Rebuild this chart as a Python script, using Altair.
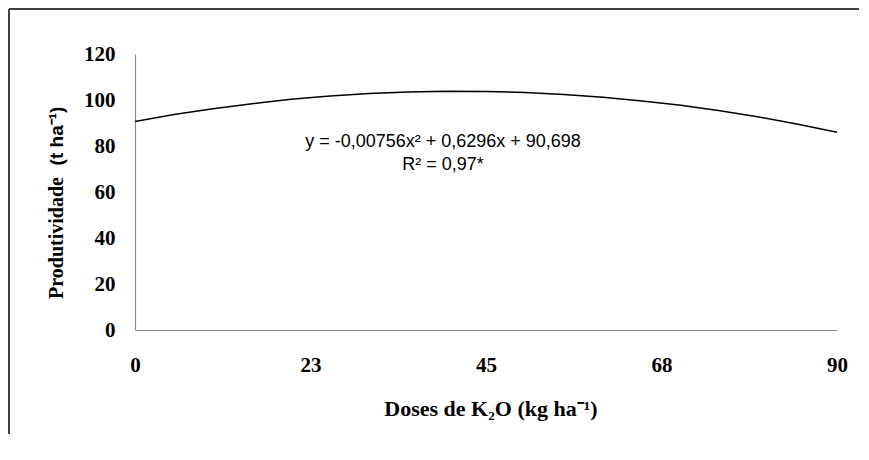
import altair as alt
import pandas as pd

# Curve values (Produtividade vs dose)
doses = [0, 5, 10, 15, 20, 25, 30, 35, 40, 45, 50, 55, 60, 65, 70, 75, 80, 85, 90]
produtividade = [90.7, 93.7, 96.2, 98.4, 100.3, 101.7, 102.8, 103.5, 103.8, 103.7,
                 103.3, 102.4, 101.2, 99.6, 97.7, 95.3, 92.6, 89.5, 86.0]

x_tick_values = [0, 22.5, 45, 67.5, 90]
x_tick_labels = ["0", "23", "45", "68", "90"]
y_tick_values = [0, 20, 40, 60, 80, 100, 120]

equation_lines = ["y = -0,00756x² + 0,6296x + 90,698", "R² = 0,97*"]
y_title_parts = ["Produtividade", "(t ha⁻¹)"]
x_title = "Doses de K₂O (kg ha⁻¹)"

W, H = 702, 276
PAD_L, PAD_T = 127, 46

df = pd.DataFrame({"dose": doses, "prod": produtividade})

label_map = "{" + ",".join(f"'{v}':'{l}'" for v, l in zip(x_tick_values, x_tick_labels)) + "}"
label_expr = f"{label_map}[toString(datum.value)]"

line = alt.Chart(df).mark_line(color="black", strokeWidth=1.5).encode(
    x=alt.X("dose:Q", scale=alt.Scale(domain=[0, 90], nice=False),
            axis=alt.Axis(values=x_tick_values, labelExpr=label_expr, title=None,
                          ticks=False, grid=False, domainColor="#8c8c8c", domainWidth=1.2,
                          labelFont="Liberation Serif", labelFontWeight="bold",
                          labelFontSize=21, labelColor="black", labelPadding=24,
                          labelFlush=False)),
    y=alt.Y("prod:Q", scale=alt.Scale(domain=[0, 120], nice=False),
            axis=alt.Axis(values=y_tick_values, title=None, ticks=False, grid=False,
                          domainColor="#8c8c8c", domainWidth=1.2,
                          labelFont="Liberation Serif", labelFontWeight="bold",
                          labelFontSize=21, labelColor="black", labelPadding=20)),
)

eq_df = pd.DataFrame({"t": equation_lines})
eq0 = alt.Chart(eq_df.iloc[[0]]).mark_text(
    font="Liberation Sans", fontSize=18, color="black", align="center", baseline="middle"
).encode(text="t:N", x=alt.value(308), y=alt.value(88))
eq1 = alt.Chart(eq_df.iloc[[1]]).mark_text(
    font="Liberation Sans", fontSize=18, color="black", align="center", baseline="middle"
).encode(text="t:N", x=alt.value(308), y=alt.value(111))

yt1 = alt.Chart(pd.DataFrame({"t": [y_title_parts[0]]})).mark_text(
    font="Liberation Serif", fontSize=20, fontWeight="bold", color="black",
    angle=270, align="center", baseline="middle"
).encode(text="t:N", x=alt.value(-78), y=alt.value(184))
yt2 = alt.Chart(pd.DataFrame({"t": [y_title_parts[1]]})).mark_text(
    font="Liberation Sans", fontSize=19, fontWeight="bold", color="black",
    angle=270, align="center", baseline="middle"
).encode(text="t:N", x=alt.value(-78), y=alt.value(82))

xt = alt.Chart(pd.DataFrame({"t": [x_title]})).mark_text(
    font="Liberation Serif", fontSize=22, fontWeight="bold", color="black",
    align="center", baseline="middle"
).encode(text="t:N", x=alt.value(356), y=alt.value(355))

border_top = alt.Chart(pd.DataFrame({"a": [0]})).mark_rule(color="#404040", strokeWidth=2).encode(
    x=alt.value(-126), x2=alt.value(724), y=alt.value(-45))
border_left = alt.Chart(pd.DataFrame({"a": [0]})).mark_rule(color="#404040", strokeWidth=2).encode(
    x=alt.value(-126), y=alt.value(-45), y2=alt.value(410))

chart = alt.layer(border_top, border_left, line, eq0, eq1, yt1, yt2, xt).properties(
    width=W, height=H,
    autosize=alt.AutoSizeParams(type="none"),
    padding={"left": PAD_L, "top": PAD_T, "right": 24, "bottom": 104},
).configure(background="transparent").configure_view(stroke=None)

chart.save("out.html", embed_options={"renderer": "svg", "actions": False})
